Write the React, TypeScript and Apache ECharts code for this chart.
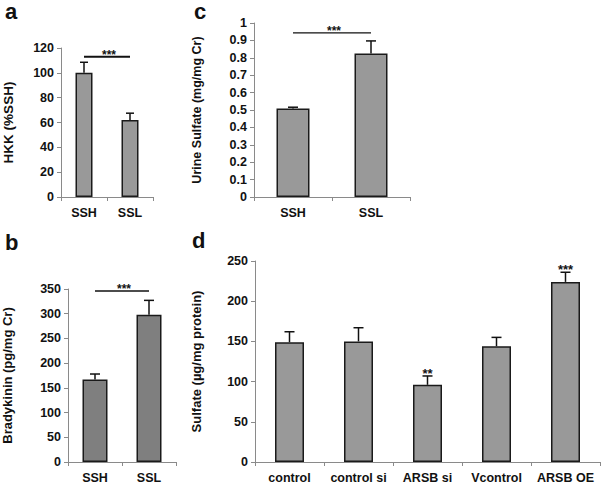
import React, { useEffect, useRef } from "react";
import * as echarts from "echarts";

// ---- data ----
const catsA = ["SSH", "SSL"];
const hkk = [100, 62];
const hkkErr = [8.5, 5.5];
const sigA = [-0.17, 1.09, 113, "***"];

const catsB = ["SSH", "SSL"];
const brady = [167, 298];
const bradyErr = [11, 29];
const sigB = [-0.04, 0.99, 346, "***"];

const catsC = ["SSH", "SSL"];
const urineSulfate = [0.508, 0.825];
const urineSulfateErr = [0.008, 0.072];
const sigC = [-0.2, 0.9, 0.943, "***"];

const catsD = ["control", "control si", "ARSB si", "Vcontrol", "ARSB OE"];
const cellSulfate = [149, 150, 96, 144, 224];
const cellSulfateErr = [13, 17, 11, 11, 12];
const starsD = ["", "", "**", "", "***"];

const ticksA = [0, 120, 20];
const ticksB = [0, 350, 50];
const ticksC = [0, 1, 0.1];
const ticksD = [0, 250, 50];

const FONT = "Arial, 'Liberation Sans', sans-serif";

export default function App() {
  const ref = useRef<HTMLDivElement>(null);
  useEffect(() => {
    if (!ref.current) return;
    const chart = echarts.init(ref.current, null, { renderer: "svg" });

    const grids = [
      { left: 60, top: 48, width: 93, height: 149 },
      { left: 62, top: 289, width: 114, height: 173 },
      { left: 254, top: 23, width: 156, height: 174 },
      { left: 255, top: 261, width: 345, height: 201 },
    ];
    const cats = [catsA, catsB, catsC, catsD];
    const ticks = [ticksA, ticksB, ticksC, ticksD];
    const names = ["HKK (%SSH)", "Bradykinin (pg/mg Cr)", "Urine Sulfate (mg/mg Cr)", "Sulfate (\u00b5g/mg protein)"];
    const nameGaps = [46, 54, 51, 52];
    const nameSizes = [13.5, 13, 12.5, 13];
    const labelSizes = [12.5, 12.5, 12.5, 12.5];
    const xLabelSizes = [12.5, 12.5, 12.5, 12.5];
    const vals = [hkk, brady, urineSulfate, cellSulfate];
    const errs = [hkkErr, bradyErr, urineSulfateErr, cellSulfateErr];
    const colors = ["#999999", "#7f7f7f", "#999999", "#999999"];
    const barW = [17, 25, 33, 29];
    const capW = [8, 10, 10, 10];
    const sigs = [sigA, sigB, sigC];
    const sigLW = [2, 1.6, 1.4];

    const xAxis = cats.map((c, i) => ({
      type: "category",
      gridIndex: i,
      data: c,
      axisLine: { lineStyle: { color: "#8a8a8a", width: 1 } },
      axisTick: { show: true, length: 4, interval: 0, lineStyle: { color: "#8a8a8a" } },
      axisLabel: {
        color: "#111",
        fontWeight: "bold",
        fontSize: xLabelSizes[i],
        fontFamily: FONT,
        margin: 9,
        interval: 0,
      },
    }));

    const yAxis = ticks.map((t, i) => ({
      type: "value",
      gridIndex: i,
      min: t[0],
      max: t[1],
      interval: t[2],
      name: names[i],
      nameLocation: "middle",
      nameGap: nameGaps[i],
      nameTextStyle: { color: "#111", fontWeight: "bold", fontSize: nameSizes[i], fontFamily: FONT },
      splitLine: { show: false },
      axisLine: { show: true, lineStyle: { color: "#8a8a8a", width: 1 } },
      axisTick: { show: true, length: 4, lineStyle: { color: "#8a8a8a" } },
      axisLabel: {
        color: "#111",
        fontWeight: "bold",
        fontSize: labelSizes[i],
        fontFamily: FONT,
        margin: 7,
        formatter: (v: number) => String(+v.toFixed(1)),
      },
    }));

    const series: any[] = [];
    vals.forEach((v, i) => {
      series.push({
        type: "bar",
        xAxisIndex: i,
        yAxisIndex: i,
        data: v,
        barWidth: barW[i],
        itemStyle: { color: colors[i], borderColor: "#1a1a1a", borderWidth: 1.5 },
        z: 2,
      });
      series.push({
        type: "custom",
        xAxisIndex: i,
        yAxisIndex: i,
        z: 3,
        data: v.map((val, k) => [k, val, errs[i][k]]),
        renderItem: (params: any, api: any) => {
          const x = api.value(0);
          const top = api.value(1);
          const e = api.value(2);
          const star = i === 3 ? starsD[params.dataIndex] : "";
          const p0 = api.coord([x, top]);
          const p1 = api.coord([x, top + e]);
          const h = capW[i] / 2;
          const children: any[] = [
            { type: "line", shape: { x1: p0[0], y1: p0[1], x2: p1[0], y2: p1[1] }, style: { stroke: "#111", lineWidth: 1.5 } },
            { type: "line", shape: { x1: p1[0] - h, y1: p1[1], x2: p1[0] + h, y2: p1[1] }, style: { stroke: "#111", lineWidth: 1.5 } },
          ];
          if (star) {
            children.push({
              type: "text",
              x: p1[0],
              y: p1[1] + 4,
              style: { text: star, fill: "#111", font: `bold 13px ${FONT}`, align: "center", verticalAlign: "bottom" },
            });
          }
          return { type: "group", children };
        },
      });
    });

    sigs.forEach((s, i) => {
      series.push({
        type: "custom",
        xAxisIndex: i,
        yAxisIndex: i,
        z: 4,
        data: [s],
        renderItem: (params: any, api: any) => {
          const a = api.coord([api.value(0), api.value(2)]);
          const b = api.coord([api.value(1), api.value(2)]);
          const txt = sigs[i][3] as string;
          return {
            type: "group",
            children: [
              { type: "line", shape: { x1: a[0], y1: a[1], x2: b[0], y2: b[1] }, style: { stroke: "#111", lineWidth: sigLW[i] } },
              {
                type: "text",
                x: (a[0] + b[0]) / 2 + 2,
                y: a[1] + 4,
                style: { text: txt, fill: "#111", font: `bold 12px ${FONT}`, align: "center", verticalAlign: "bottom" },
              },
            ],
          };
        },
      });
    });

    const letter = (t: string, x: number, y: number) => ({
      type: "text",
      left: x,
      top: y,
      style: { text: t, fill: "#111", font: `bold 22px ${FONT}` },
    });

    chart.setOption({
      animation: false,
      backgroundColor: "#ffffff",
      grid: grids,
      xAxis,
      yAxis,
      series,
      graphic: [letter("a", 5, 0), letter("b", 5, 231), letter("c", 194, 0), letter("d", 192, 229)],
    });
    return () => chart.dispose();
  }, []);
  return (
    <div
      ref={ref}
      style={{ position: "absolute", left: 0, top: 0, width: 602, height: 487 }}
    />
  );
}
